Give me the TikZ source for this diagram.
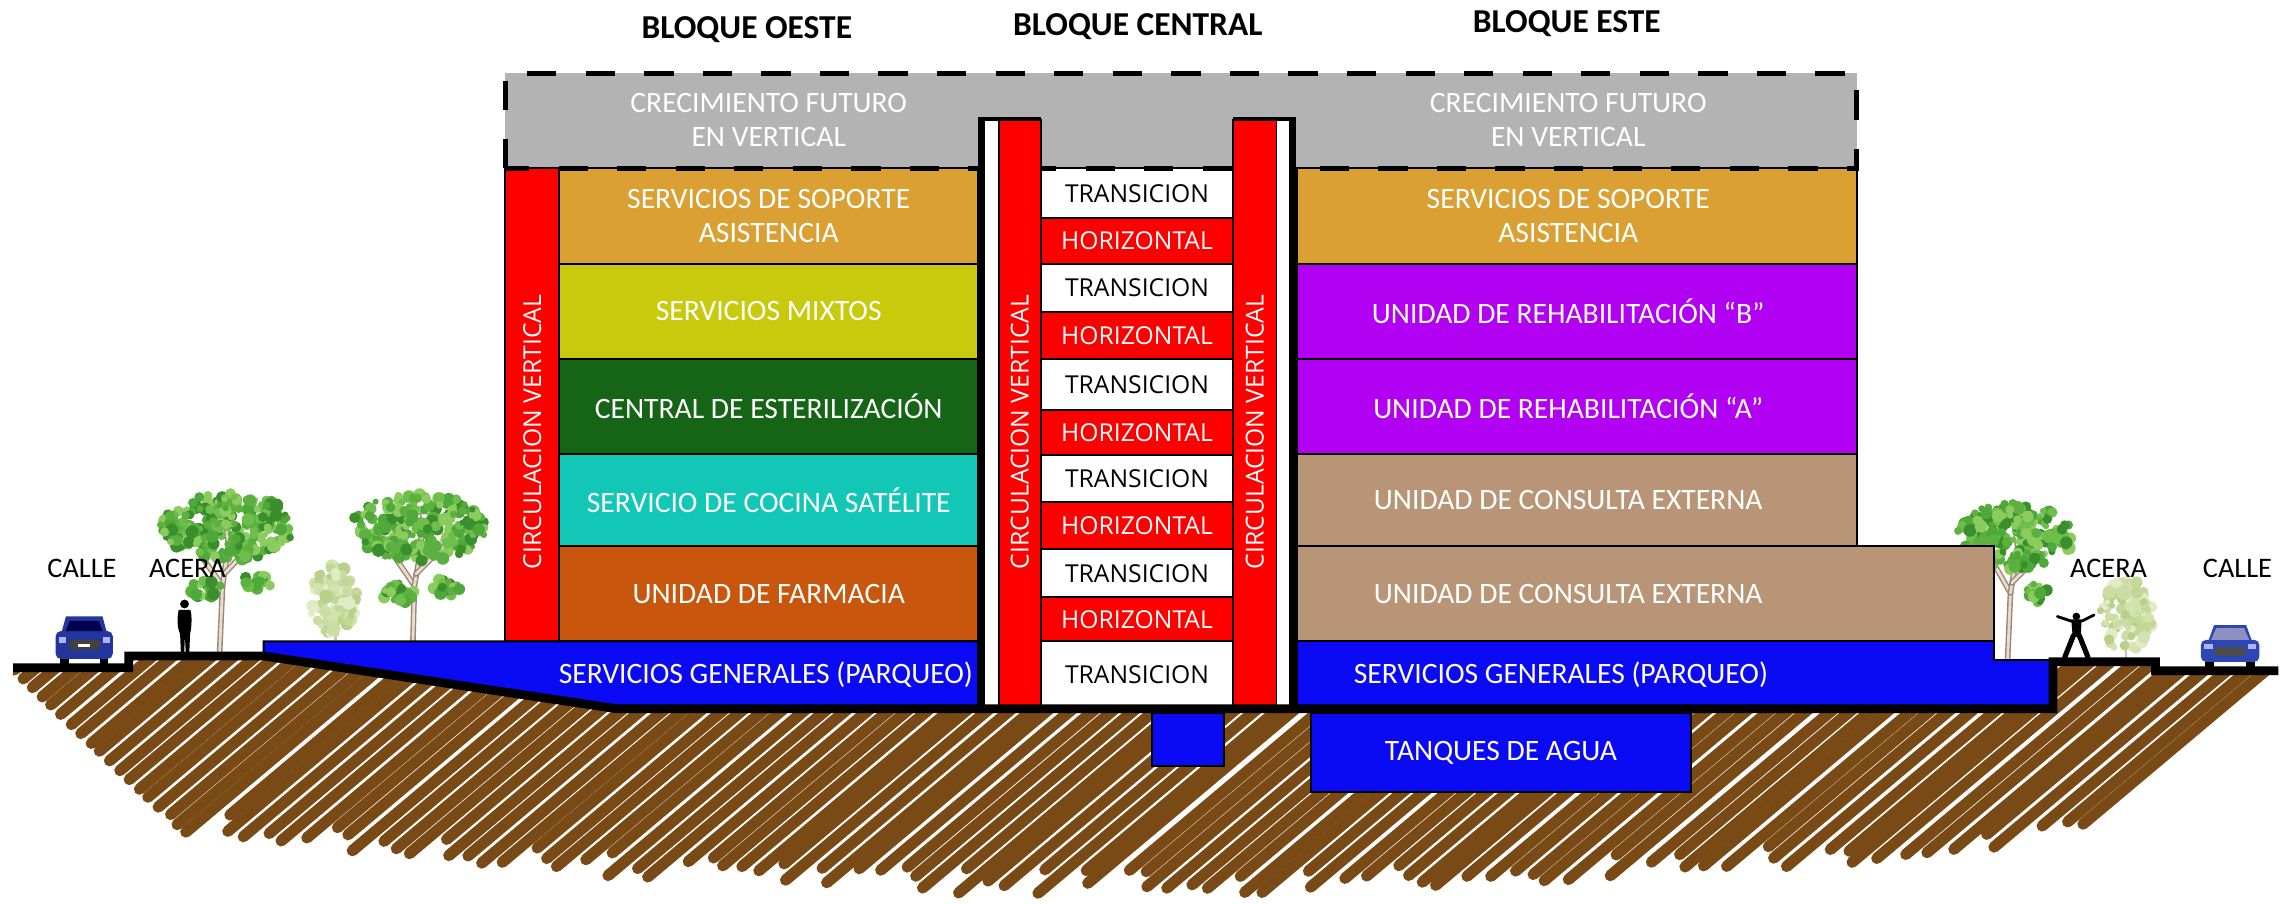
\documentclass[tikz,border=0pt]{standalone}
\usepackage{fontspec}
\setmainfont{Carlito}
\newfontfamily\cellfont{Open Sans}

\definecolor{growgray}{HTML}{B3B3B3}
\definecolor{csoporte}{HTML}{DBA033}
\definecolor{cmixtos}{HTML}{C9C90E}
\definecolor{cester}{HTML}{166516}
\definecolor{ccocina}{HTML}{12C7B6}
\definecolor{cfarm}{HTML}{C8560C}
\definecolor{cpurple}{HTML}{B100F2}
\definecolor{ctan}{HTML}{B99578}
\definecolor{cblue}{HTML}{0A0AF5}
\definecolor{cred}{HTML}{FF0000}
\definecolor{soil}{HTML}{7A4A16}
\definecolor{barkedge}{HTML}{9C8672}
\definecolor{barklight}{HTML}{E6DDD0}
\definecolor{leafg0}{HTML}{4FA83A}
\definecolor{leafg1}{HTML}{6DBE4A}
\definecolor{leafg2}{HTML}{3A8F2C}
\definecolor{leafg3}{HTML}{8CCB5E}
\definecolor{leafg4}{HTML}{5BB040}
\definecolor{paleg0}{HTML}{D3E3AE}
\definecolor{paleg1}{HTML}{C2D897}
\definecolor{paleg2}{HTML}{E1EBC6}
\definecolor{paleg3}{HTML}{B8D08A}
\definecolor{paleg4}{HTML}{CBDDA4}
\definecolor{carblue}{HTML}{22369C}
\definecolor{carblue2}{HTML}{2C46B4}

\tikzset{
  room/.style={draw=black, line width=0.8pt},
  roomlabel/.style={text=white, font=\fontsize{11.5}{13.5}\selectfont, align=center, inner sep=0pt},
  blocktitle/.style={font=\bfseries\fontsize{13}{15}\selectfont, inner sep=0pt},
  celllabel/.style={font=\cellfont\fontsize{9.6}{11}\selectfont, inner sep=0pt},
  circlabel/.style={font=\cellfont\fontsize{9.6}{11}\selectfont, text=white, rotate=90, inner sep=0pt},
  streetlabel/.style={font=\fontsize{11}{13}\selectfont, inner sep=0pt},
  soilstroke/.style={draw=soil, line width=4.4pt, line cap=round},
  groundline/.style={draw=black, line width=3.4pt, line join=miter},
  futureedge/.style={draw=black, line width=1.8pt, dash pattern=on 0.4cm off 0.4cm},
  barkout/.style={draw=barkedge, line width=2.2pt, line cap=round},
  barkin/.style={draw=barklight, line width=1.1pt, line cap=round},
}

% leafy crown made of small random blobs: cx, cy, rx, ry, count, palette
\newcommand\leafcrown[6]{%
  \foreach \k in {1,...,#5}{%
    \pgfmathsetmacro{\lfR}{sqrt(rnd)}%
    \pgfmathsetmacro{\lfA}{360*rnd}%
    \pgfmathsetmacro{\lfS}{2+2.5*rnd}%
    \pgfmathtruncatemacro{\lfC}{mod(\k,5)}%
    \fill[fill=#6\lfC] ({#1+#3*\lfR*cos(\lfA)},{#2+#4*\lfR*sin(\lfA)}) circle[radius=\lfS];
  }}

% birch trunk: bark edge then light core
\newcommand\bark[1]{\draw[barkout] #1; \draw[barkin] #1;}

% one storey of the building
\newcommand\room[5]{% x1 y1 x2 y2 colour
  \filldraw[fill=#5, room] (#1,#2) rectangle (#3,#4);}

\newcommand\transcell[3]{%
  \filldraw[fill=white, room] (711,#1) rectangle (842,#2);
  \node[celllabel] (#3) at (776.5,{(#1+#2)/2}) {TRANSICION};}
\newcommand\horizcell[3]{%
  \filldraw[fill=cred, room] (711,#1) rectangle (842,#2);
  \node[celllabel, text=white] (#3) at (776.5,{(#1+#2)/2}) {HORIZONTAL};}

\begin{document}
\begin{tikzpicture}[x=0.02cm, y=-0.02cm]
\useasboundingbox (0,0) rectangle (1568,617);

% ---------------- hatched soil ----------------
\begin{scope}
  \clip (9,456) -- (88,456) -- (88,448) -- (180,448) -- (421,484) -- (1402,484)
        -- (1402,452) -- (1472,452) -- (1472,458) -- (1553,458) -- (1553,660) -- (0,660) -- cycle;
  \pgfmathsetseed{11}
  \foreach \i in {0,...,110}{
    \pgfmathsetmacro{\sc}{552.9+14*\i+2*rand}
    \pgfmathsetmacro{\sxo}{\sc-585/0.84}
    \pgfmathsetmacro{\sbe}{558+45*sin(180*max(0,min(1,(\sxo-60)/1450)))+9*rand}
    \pgfmathsetmacro{\syb}{min(\sbe,(458+0.95*(\sc-10))/2.131)}
    \pgfmathsetmacro{\sxb}{\sc-\syb/0.84}
    \pgfmathsetmacro{\sxt}{\sc-430/0.84}
    \draw[soilstroke] (\sxb,\syb) -- (\sxt,430);
  }
\end{scope}

% ---------------- trees ----------------
\pgfmathsetseed{5}
% tree by the west sidewalk
\bark{(150,445) -- (152,400) -- (136,378)}
\bark{(152,400) -- (156,372) -- (154,352)}
\bark{(153,392) -- (172,372)}
\leafcrown{155}{360}{46}{23}{260}{leafg}
\leafcrown{140}{402}{11}{7}{22}{leafg}
\leafcrown{174}{398}{11}{6}{20}{leafg}
% tree in front of the west block
\bark{(282,438) -- (283,400) -- (268,378)}
\bark{(283,400) -- (288,372) -- (286,352)}
\bark{(284,392) -- (304,372)}
\leafcrown{286}{360}{46}{23}{260}{leafg}
\leafcrown{272}{405}{11}{7}{22}{leafg}
\leafcrown{305}{401}{10}{6}{20}{leafg}
% pale young tree
\draw[barklight!70!gray, line width=1pt] (229,437) -- (229,418);
\leafcrown{228}{410}{17}{24}{110}{paleg}
% tree by the east sidewalk
\bark{(1371,451) -- (1373,405) -- (1360,382)}
\bark{(1373,405) -- (1378,375) -- (1376,355)}
\bark{(1374,398) -- (1394,378)}
\leafcrown{1376}{366}{40}{23}{230}{leafg}
\leafcrown{1393}{405}{10}{7}{20}{leafg}
% pale young tree east
\draw[barklight!70!gray, line width=1pt] (1452,451) -- (1452,432);
\leafcrown{1452}{420}{18}{25}{110}{paleg}

% ---------------- zone of future vertical growth ----------------
\fill[growgray] (345,50) rectangle (1268,115);
\node[roomlabel] (growW) at (525,82) {CRECIMIENTO FUTURO\\EN VERTICAL};
\node[roomlabel] (growE) at (1071,82) {CRECIMIENTO FUTURO\\EN VERTICAL};

% ---------------- west block ----------------
\room{382}{115}{668}{180}{csoporte}
\room{382}{180}{668}{245}{cmixtos}
\room{382}{245}{668}{310}{cester}
\room{382}{310}{668}{373}{ccocina}
\room{382}{373}{668}{438}{cfarm}
\filldraw[fill=cred, room] (345,115) rectangle (382,438);
\node[circlabel] (circW) at (363.5,295) {CIRCULACION VERTICAL};
\node[roomlabel] (soporteW) at (525,147.5) {SERVICIOS DE SOPORTE\\ASISTENCIA};
\node[roomlabel] (mixtos) at (525,212.5) {SERVICIOS MIXTOS};
\node[roomlabel] (ester) at (525,277.5) {CENTRAL DE ESTERILIZACIÓN};
\node[roomlabel] (cocina) at (525,341.5) {SERVICIO DE COCINA SATÉLITE};
\node[roomlabel] (farmacia) at (525,405.5) {UNIDAD DE FARMACIA};

% west parking, following the ramp
\filldraw[fill=cblue, room] (180,438) -- (668,438) -- (668,484) -- (421,484) -- (180,448) -- cycle;
\node[roomlabel] (parkW) at (523,461) {SERVICIOS GENERALES (PARQUEO)};

% ---------------- east block ----------------
\room{886}{115}{1268}{180}{csoporte}
\room{886}{180}{1268}{245}{cpurple}
\room{886}{245}{1268}{310}{cpurple}
\room{886}{310}{1268}{373}{ctan}
\room{886}{373}{1362}{438}{ctan}
\node[roomlabel] (soporteE) at (1071,147.5) {SERVICIOS DE SOPORTE\\ASISTENCIA};
\node[roomlabel] (rehabB) at (1071,212.5) {UNIDAD DE REHABILITACIÓN “B”};
\node[roomlabel] (rehabA) at (1071,277.5) {UNIDAD DE REHABILITACIÓN “A”};
\node[roomlabel] (consulta1) at (1071,341.5) {UNIDAD DE CONSULTA EXTERNA};
\node[roomlabel] (consulta2) at (1071,405.5) {UNIDAD DE CONSULTA EXTERNA};

\filldraw[fill=cblue, room] (886,438) -- (1362,438) -- (1362,451) -- (1402,451) -- (1402,484) -- (886,484) -- cycle;
\node[roomlabel] (parkE) at (1066,461) {SERVICIOS GENERALES (PARQUEO)};

% underground water storage
\filldraw[fill=cblue, room] (895,487) rectangle (1155,541);
\node[roomlabel] (tanques) at (1025,514) {TANQUES DE AGUA};
\filldraw[fill=cblue, room] (787,487) rectangle (836,523);

% ---------------- central block ----------------
\transcell{115}{149}{t1}
\horizcell{149}{180}{h1}
\transcell{180}{213}{t2}
\horizcell{213}{245}{h2}
\transcell{245}{280}{t3}
\horizcell{280}{311}{h3}
\transcell{311}{343}{t4}
\horizcell{343}{375}{h4}
\transcell{375}{408}{t5}
\horizcell{408}{438}{h5}
\transcell{438}{484}{t6}

% dashed outline of the future growth zone
\draw[futureedge] (345,115) -- (345,50) -- (1268,50) -- (1268,115) -- cycle;

% vertical circulation shafts
\fill[black] (668,80) rectangle (673,484);
\fill[white] (673,82.5) rectangle (682,484);
\filldraw[fill=cred, room] (682,82) rectangle (711,484);
\fill[black] (668,80) rectangle (711,82.5);
\filldraw[fill=cred, room] (842,82) rectangle (872,484);
\fill[white] (872,82.5) rectangle (880,484);
\fill[black] (880,80) rectangle (885,484);
\fill[black] (842,80) rectangle (885,82.5);
\node[circlabel] (circC1) at (696.5,295) {CIRCULACION VERTICAL};
\node[circlabel] (circC2) at (857,295) {CIRCULACION VERTICAL};

% ---------------- ground profile ----------------
\draw[groundline] (9,456) -- (88,456) -- (88,448) -- (180,448) -- (421,484) -- (1402,484)
  -- (1402,452) -- (1472,452) -- (1472,458) -- (1556,458);

% ---------------- people ----------------
\fill[black] (126,412.5) circle[radius=3];
\fill[black] (122,416.5) .. controls (120.5,424) and (121.5,430) .. (123,433) -- (123.5,445.5)
  -- (125.8,445.5) -- (126.3,434) -- (126.8,445.5) -- (129.3,445.5) -- (129.8,433)
  .. controls (131,428) and (131.2,420) .. (130,416.5) -- cycle;
\fill[black] (1418,421) circle[radius=2.6];
\draw[black, line width=1.1pt, line cap=round] (1405,421) -- (1414,424) -- (1422,424) -- (1430,420);
\fill[black] (1414.5,423.5) -- (1421.5,423.5) -- (1421,435) -- (1415.5,435) -- cycle;
\draw[black, line width=2pt, line cap=round] (1416,434) -- (1410,449);
\draw[black, line width=2pt, line cap=round] (1420,434) -- (1426,449);

% ---------------- cars ----------------
% west car, front view
\fill[black] (41,446) rectangle (47,454);
\fill[black] (68,446) rectangle (74,454);
\fill[carblue, rounded corners=2] (38,431) rectangle (77,450);
\fill[carblue] (42,432) -- (73,432) -- (70,421) -- (45,421) -- cycle;
\fill[black!70!blue] (45,431) -- (70,431) -- (67.5,424) -- (47.5,424) -- cycle;
\fill[black!75] (47,437) rectangle (68,444);
\fill[white!70!blue] (40,435) rectangle (45,439);
\fill[white!70!blue] (70,435) rectangle (75,439);
\fill[white] (53.5,440) rectangle (61.5,442);
% east car, front view
\fill[black] (1506,449) rectangle (1512,456);
\fill[black] (1534,449) rectangle (1540,456);
\fill[carblue2, rounded corners=2] (1503,437) rectangle (1543,452);
\fill[carblue2] (1508,438) -- (1538,438) -- (1534,427) -- (1512,427) -- cycle;
\fill[black!30!white!80!blue] (1510,437) -- (1536,437) -- (1532.5,429) -- (1513.5,429) -- cycle;
\fill[black!70] (1513,442) rectangle (1533,448);
\fill[white!70!blue] (1505,440) rectangle (1511,443);
\fill[white!70!blue] (1535,440) rectangle (1541,443);

% ---------------- titles and street labels ----------------
\node[blocktitle] (titleW) at (510,20) {BLOQUE OESTE};
\node[blocktitle] (titleC) at (777,18) {BLOQUE CENTRAL};
\node[blocktitle] (titleE) at (1070,16) {BLOQUE ESTE};
\node[streetlabel] (calleW) at (56,388) {CALLE};
\node[streetlabel] (aceraW) at (128,388) {ACERA};
\node[streetlabel] (aceraE) at (1440,388) {ACERA};
\node[streetlabel] (calleE) at (1528,388) {CALLE};
\end{tikzpicture}
\end{document}
